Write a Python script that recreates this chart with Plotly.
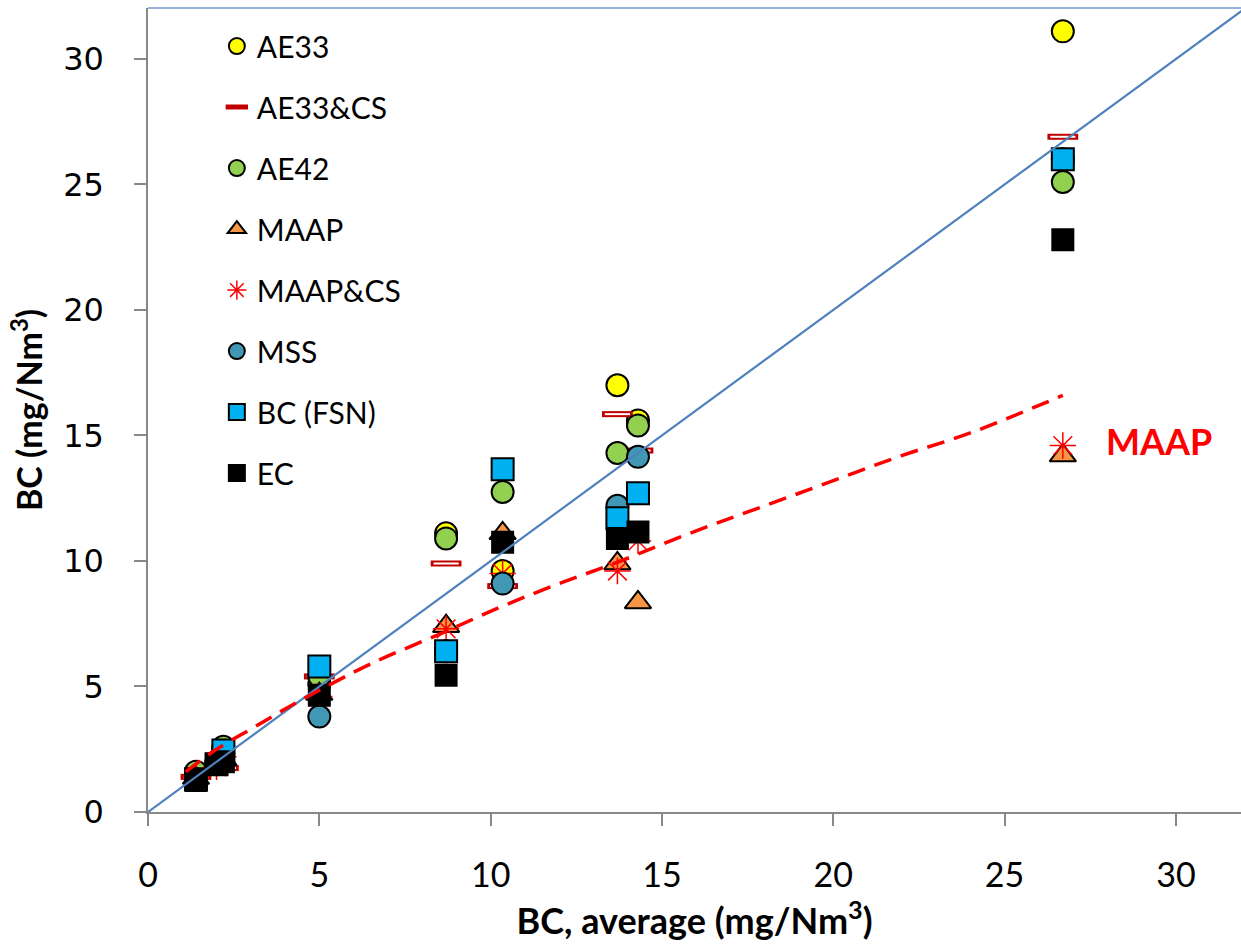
import plotly.graph_objects as go

# ---- data ----
bc_average = [1.4, 2.0, 2.2, 5.0, 8.7, 10.35, 13.7, 14.3, 26.7]

ae33      = [1.5, 2.0, 2.5, 5.1, 11.1, 9.6, 17.0, 15.6, 31.1]
ae33_cs   = [1.4, 1.7, 1.75, 5.4, 9.9, 9.0, 15.85, 14.4, 26.9]
ae42      = [1.6, 2.0, 2.6, 5.4, 10.9, 12.75, 14.3, 15.4, 25.1]
maap      = [1.35, 1.9, 2.1, 4.7, 7.4, 11.1, 9.9, 8.35, 14.2]
maap_cs   = [1.4, 1.8, 2.2, 4.6, 7.3, 9.5, 9.6, 10.8, 14.6]
mss       = [1.3, 1.9, 2.3, 3.8, 6.4, 9.1, 12.2, 14.15, 26.0]
bc_fsn    = [1.3, 1.9, 2.45, 5.8, 6.4, 13.65, 11.7, 12.7, 26.0]
ec        = [1.25, 1.9, 2.0, 4.65, 5.45, 10.75, 10.9, 11.15, 22.8]

# MAAP trend (dashed red)
maap_trend_x = [1.1, 2.0, 3.0, 4.0, 5.0, 6.5, 8.7, 10.35, 12.0, 13.7, 16.0, 18.0, 20.0, 22.0, 24.0, 26.7]
maap_trend_y = [1.6, 2.5, 3.3, 4.1, 4.85, 5.9, 7.2, 8.2, 9.1, 9.95, 11.2, 12.2, 13.2, 14.2, 15.1, 16.6]

# 1:1 line
one_to_one = [0, 32]

x_ticks = [0, 5, 10, 15, 20, 25, 30]
y_ticks = [0, 5, 10, 15, 20, 25, 30]

FONT = "Lato"
MS = 22

fig = go.Figure()

def add(name, y, symbol, fill, line_color="black", line_width=2, group=None, showlegend=True, size=MS):
    fig.add_trace(go.Scatter(
        x=bc_average, y=y, mode="markers", name=name,
        legendgroup=group or name, showlegend=showlegend,
        marker=dict(symbol=symbol, size=size, color=fill,
                    line=dict(color=line_color, width=line_width)),
    ))

add("AE33", ae33, "circle", "#FFFF00")
add("AE33&CS", ae33_cs, "line-ew", "#C00000", line_color="#C00000", line_width=6)
add("AE33&CS_w", ae33_cs, "line-ew", "white", line_color="white", line_width=2,
    group="AE33&CS", showlegend=False, size=18)
add("AE42", ae42, "circle", "#92D050")
add("MAAP", maap, "triangle-up", "#F79646", size=23)
add("MAAP&CS", maap_cs, "asterisk-open", "#FF0000", line_color="#FF0000", line_width=1.5)
add("MSS", mss, "circle", "#4198B5")
add("BC (FSN)", bc_fsn, "square", "#00B0F0")
add("EC", ec, "square", "#000000", size=21)

fig.add_trace(go.Scatter(
    x=one_to_one, y=one_to_one, mode="lines", showlegend=False,
    line=dict(color="#4F81BD", width=2.2), hoverinfo="skip"))
fig.add_trace(go.Scatter(
    x=maap_trend_x, y=maap_trend_y, mode="lines", showlegend=False,
    line=dict(color="#FF0000", width=3.5, dash="18px,10px", shape="spline"), hoverinfo="skip"))

fig.add_annotation(x=29.5, y=14.8, text="<b>MAAP</b>", showarrow=False,
                   font=dict(family=FONT, size=36, color="#FF0000"))

# top border of plot area
fig.add_shape(type="line", xref="paper", yref="paper", x0=0, x1=1, y0=1, y1=1,
              line=dict(color="#95B3D7", width=2))

fig.update_layout(
    width=1241, height=949, autosize=False,
    margin=dict(l=148, r=0, t=8, b=137),
    paper_bgcolor="white", plot_bgcolor="white",
    font=dict(family=FONT, size=30, color="black"),
    showlegend=True,
    legend=dict(x=0.063, y=0.985, xanchor="left", yanchor="top",
                traceorder="grouped", tracegroupgap=19,
                font=dict(family=FONT, size=30, color="black"),
                bgcolor="rgba(0,0,0,0)", itemsizing="trace"),
    xaxis=dict(range=[0, 31.9], tickvals=x_ticks, showgrid=False, zeroline=False,
               showline=True, linecolor="#888888", linewidth=1.5,
               ticks="outside", ticklen=12, tickcolor="#888888", tickwidth=1.5,
               ticklabelstandoff=20,
               tickfont=dict(family=FONT, size=34),
               title=dict(text="<b>BC, average (mg/Nm<sup>3</sup>)</b>",
                          font=dict(family=FONT, size=36), standoff=10)),
    yaxis=dict(range=[0, 32.03], tickvals=y_ticks, showgrid=False, zeroline=False,
               showline=True, linecolor="#888888", linewidth=1.5,
               ticks="outside", ticklen=12, tickcolor="#888888", tickwidth=1.5,
               ticklabelstandoff=24,
               tickfont=dict(family="DejaVu Sans", size=32),
               title=dict(text="<b>BC (mg/Nm<sup>3</sup>)</b>",
                          font=dict(family=FONT, size=34), standoff=10)),
)

fig.write_html("out.html")
